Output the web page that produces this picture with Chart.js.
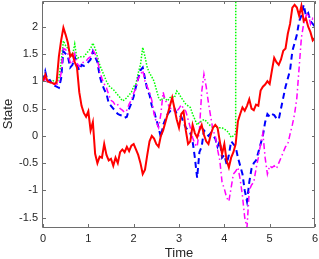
<!DOCTYPE html>
<html>
<head>
<meta charset="utf-8">
<script src="https://cdn.jsdelivr.net/npm/chart.js@4/dist/chart.umd.min.js"></script>
<style>
    html, body { margin: 0; padding: 0; background: #fff; }
    #wrap { width: 319px; height: 259px; }
</style>
</head>
<body>
<div id="wrap"><canvas id="state-chart"></canvas></div>
<script>
// time grid, step 0.05
const times = Array.from({ length: 121 }, (_, i) => Math.round(i * 5) / 100);

const redState = [
    1.00, 1.12, 1.00, 0.98, 0.97, 0.95, 0.98, 1.45, 1.75, 1.98,
    1.85, 1.70, 1.45, 1.50, 1.35, 1.25, 0.80, 0.55, 0.42, 0.35,
    0.45, 0.10, 0.25, -0.33, -0.50, -0.38, -0.40, -0.15, -0.35, -0.45,
    -0.42, -0.55, -0.40, -0.50, -0.30, -0.25, -0.30, -0.20, -0.28, -0.18,
    -0.15, -0.25, -0.35, -0.50, -0.70, -0.62, -0.35, -0.10, 0.00, -0.05,
    -0.15, -0.20, 0.00, 0.10, 0.25, 0.40, 0.55, 0.70, 0.50, 0.30,
    0.15, 0.40, 0.45, 0.10, -0.15, -0.10, 0.20, 0.05, -0.03, 0.10,
    0.20, 0.02, -0.10, -0.15, 0.02, 0.15, 0.20, 0.15, -0.10, -0.33,
    -0.15, -0.45, -0.58, -0.40, -0.30, -0.15, 0.27, 0.40, 0.52, 0.46,
    0.55, 0.67, 0.50, 0.47, 0.57, 0.55, 0.83, 0.90, 0.94, 1.00,
    0.95, 1.20, 1.43, 1.35, 1.30, 1.40, 1.56, 1.60, 1.87, 2.05,
    2.35, 2.40, 2.35, 2.20, 2.38, 2.10, 2.15, 2.00, 1.90, 1.75,
    1.80,
];

const blueState = [
    1.00, 1.18, 1.00, 1.02, 0.95, 0.92, 0.90, 0.88, 1.05, 1.55,
    1.50, 1.45, 1.25, 1.30, 1.45, 1.30, 1.20, 1.30, 1.28, 1.30,
    1.35, 1.40, 1.55, 1.45, 1.35, 1.10, 0.95, 0.85, 0.77, 0.60,
    0.55, 0.50, 0.45, 0.40, 0.38, 0.37, 0.33, 0.35, 0.50, 0.60,
    0.72, 0.90, 1.05, 1.20, 1.25, 1.05, 0.85, 0.75, 0.55, 0.45,
    0.30, 0.15, -0.03, 0.20, 0.30, 0.40, 0.45, 0.50, 0.50, 0.40,
    0.38, 0.35, 0.25, 0.15, 0.10, 0.05, -0.10, -0.40, -0.77, -0.30,
    -0.20, 0.10, 0.05, 0.00, 0.05, 0.00, -0.05, -0.20, -0.10, -0.40,
    -0.35, -0.52, -0.35, -0.10, -0.15, -0.20, -0.40, -0.55, -0.70, -1.00,
    -1.20, -0.85, -0.60, -0.50, -0.45, -0.30, -0.15, 0.00, 0.25, 0.40,
    0.35, 0.40, 0.38, 0.32, 0.30, 0.50, 0.70, 0.90, 1.05, 1.20,
    1.55, 1.70, 1.85, 2.10, 2.20, 2.40, 2.20, 2.25, 2.10, 2.05,
    2.00,
];

// green blows up just after t = 4.25 and leaves the axes
const greenState = [
    1.00, 1.05, 1.02, 1.00, 1.02, 1.00, 0.98, 1.05, 1.35, 1.74,
    1.65, 1.60, 1.50, 1.47, 1.68, 1.40, 1.45, 1.45, 1.45, 1.50,
    1.55, 1.60, 1.70, 1.60, 1.45, 1.30, 1.20, 1.10, 1.00, 0.92,
    0.88, 0.85, 0.80, 0.75, 0.70, 0.64, 0.66, 0.70, 0.75, 0.80,
    0.90, 0.95, 1.15, 1.30, 1.62, 1.45, 1.25, 1.15, 1.08, 1.00,
    0.85, 0.70, 0.64, 0.70, 0.68, 0.64, 0.70, 0.72, 0.70, 0.82,
    0.77, 0.70, 0.64, 0.58, 0.55, 0.52, 0.40, 0.30, 0.20, 0.25,
    0.27, 0.30, 0.27, 0.22, 0.18, 0.15, 0.18, 0.15, 0.15, 0.15,
    0.12, 0.10, 0.05, -0.03, 0.00, 0.04, 60,
];

const magentaState = [
    1.00, 1.05, 0.98, 1.00, 0.97, 0.95, 0.95, 0.95, 1.15, 1.60,
    1.58, 1.50, 1.35, 1.32, 1.50, 1.33, 1.27, 1.33, 1.35, 1.37,
    1.42, 1.45, 1.58, 1.50, 1.40, 1.18, 1.05, 0.95, 0.88, 0.75,
    0.65, 0.62, 0.55, 0.57, 0.50, 0.47, 0.43, 0.47, 0.58, 0.66,
    0.78, 0.88, 1.05, 1.12, 1.20, 1.00, 0.90, 0.80, 0.65, 0.40,
    0.25, 0.15, 0.40, 0.80, 0.64, 0.60, 0.50, 0.50, 0.45, 0.45,
    0.50, 0.57, 0.50, 0.45, 0.30, 0.15, -0.03, -0.15, -0.20, 0.10,
    0.80, 1.13, 0.90, 0.60, 0.35, 0.10, 0.00, -0.25, -0.45, -0.85,
    -0.97, -1.13, -1.20, -0.95, -0.70, -0.65, -0.58, -0.80, -1.10, -1.50,
    -1.68, -1.00, -0.90, -0.85, -0.60, -0.40, -0.15, 0.05, -0.40, -0.70,
    -0.55, -0.58, -0.55, -0.60, -0.50, -0.40, -0.30, -0.20, -0.15, 0.03,
    0.20, 0.40, 0.70, 1.25, 1.80, 2.05, 2.20, 2.25, 2.05, 2.15,
    2.10,
];

const xTicks = [0, 1, 2, 3, 4, 5, 6];
const yTicks = [-1.5, -1, -0.5, 0, 0.5, 1, 1.5, 2];

const toPoints = (ys) => ys.map((y, i) => ({ x: times[i], y }));

// MATLAB style box with inward tick marks
const boxPlugin = {
    id: 'box',
    afterDatasetsDraw(chart) {
        const { ctx, chartArea: a, scales } = chart;
        ctx.save();
        ctx.strokeStyle = '#6e6e6e';
        ctx.lineWidth = 1;
        ctx.beginPath();
        ctx.rect(Math.round(a.left) - 0.5, Math.round(a.top) + 0.5, Math.round(a.right - a.left), Math.round(a.bottom - a.top));
        xTicks.forEach((v) => {
            const px = Math.round(scales.x.getPixelForValue(v)) + 0.5;
            ctx.moveTo(px, a.bottom); ctx.lineTo(px, a.bottom - 3);
            ctx.moveTo(px, a.top); ctx.lineTo(px, a.top + 3);
        });
        yTicks.forEach((v) => {
            const py = Math.round(scales.y.getPixelForValue(v)) + 0.5;
            ctx.moveTo(a.left, py); ctx.lineTo(a.left + 3, py);
            ctx.moveTo(a.right, py); ctx.lineTo(a.right - 3, py);
        });
        ctx.stroke();
        ctx.restore();
    },
};

const font = { family: 'Liberation Sans, Arial, sans-serif', size: 11 };

new Chart(document.getElementById('state-chart'), {
    type: 'line',
    data: {
        datasets: [
            { data: toPoints(redState), borderColor: '#ff0000', borderWidth: 2, order: 0 },
            { data: toPoints(blueState), borderColor: '#0000ff', borderWidth: 2, borderDash: [6, 4], order: 2 },
            { data: toPoints(greenState), borderColor: '#00ff00', borderWidth: 1.5, borderDash: [1.5, 1.5], order: 3 },
            { data: toPoints(magentaState), borderColor: '#ff00ff', borderWidth: 1.5, borderDash: [6, 3, 1.5, 3], order: 1 },
        ],
    },
    options: {
        responsive: true,
        maintainAspectRatio: false,
        animation: false,
        elements: { point: { radius: 0 }, line: { tension: 0, fill: false } },
        layout: { padding: { top: 1, right: 4, left: 0, bottom: 0 } },
        plugins: { legend: { display: false }, tooltip: { enabled: false } },
        scales: {
            x: {
                type: 'linear',
                min: 0,
                max: 6,
                afterBuildTicks: (s) => { s.ticks = xTicks.map((v) => ({ value: v })); },
                afterFit: (s) => { s.height = 32; s.paddingLeft = 0; s.paddingRight = 0; },
                grid: { display: false, drawTicks: false },
                border: { display: false },
                ticks: { color: '#262626', font, padding: 5, maxRotation: 0 },
                title: { display: true, text: 'Time', color: '#262626', font: { ...font, size: 13 }, padding: { top: 0, bottom: -2 } },
            },
            y: {
                type: 'linear',
                min: -1.67,
                max: 2.47,
                afterBuildTicks: (s) => { s.ticks = yTicks.map((v) => ({ value: v })); },
                afterFit: (s) => { s.width = 43; s.paddingTop = 0; s.paddingBottom = 0; },
                grid: { display: false, drawTicks: false },
                border: { display: false },
                ticks: { color: '#262626', font, padding: 5, callback: (v) => String(v) },
                title: { display: true, text: 'State', color: '#262626', font: { ...font, size: 13 }, padding: { top: 1, bottom: 0 } },
            },
        },
    },
    plugins: [boxPlugin],
});
</script>
</body>
</html>
